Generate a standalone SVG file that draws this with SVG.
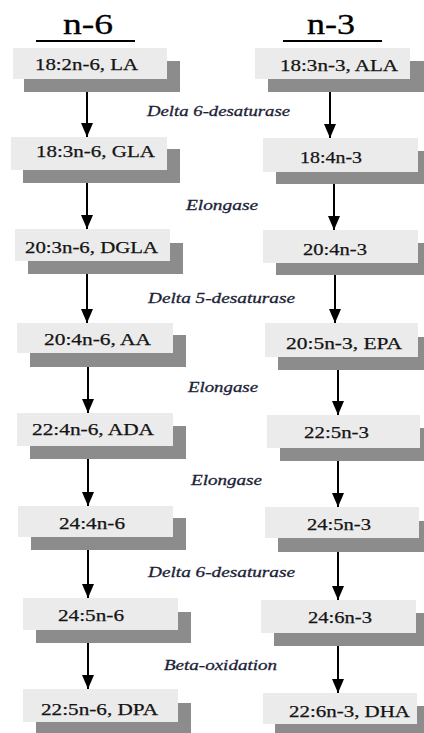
<svg xmlns="http://www.w3.org/2000/svg" width="424" height="733" viewBox="0 0 424 733">
<style>
.bg{fill:#ffffff}
.sh{fill:#8c8c8c}
.bx{fill:#ebebeb}
.t{font-family:"Liberation Serif","Times New Roman",serif;font-size:16.5px;fill:#141414;stroke:#141414;stroke-width:0.25}
.lbl{font-family:"Liberation Serif","Times New Roman",serif;font-size:14.5px;font-style:italic;fill:#1c1f38;stroke:#1c1f38;stroke-width:0.3}
.title{font-family:"Liberation Serif","Times New Roman",serif;font-size:29px;fill:#000;stroke:#000;stroke-width:0.3}
.ul{stroke:#000;stroke-width:2}
.arr{stroke:#000;stroke-width:2;fill:none;marker-end:url(#ah)}
</style>
<defs>
<marker id="ah" markerUnits="userSpaceOnUse" viewBox="0 0 14 12" markerWidth="14" markerHeight="12" refX="14" refY="6" orient="auto">
<path d="M0,0 L14,6 L0,12 z" fill="#000"/>
</marker>
</defs>
<rect class="bg" x="0" y="0" width="424" height="733"/>

<g id="title-n6">
<text class="title" x="63" y="34" textLength="50" lengthAdjust="spacingAndGlyphs">n-6</text>
<line class="ul" x1="36" y1="41" x2="135" y2="41"/>
</g>
<g id="title-n3">
<text class="title" x="307" y="34" textLength="48" lengthAdjust="spacingAndGlyphs">n-3</text>
<line class="ul" x1="283" y1="41" x2="382" y2="41"/>
</g>

<g id="connectors">
<line class="arr" x1="87" y1="92" x2="87" y2="137"/>
<line class="arr" x1="87" y1="183" x2="87" y2="229"/>
<line class="arr" x1="87" y1="274" x2="87" y2="323"/>
<line class="arr" x1="88" y1="367" x2="88" y2="413"/>
<line class="arr" x1="88" y1="459" x2="88" y2="506"/>
<line class="arr" x1="88" y1="550" x2="88" y2="598"/>
<line class="arr" x1="88" y1="643" x2="88" y2="689"/>
<line class="arr" x1="330" y1="92" x2="330" y2="138"/>
<line class="arr" x1="334" y1="184" x2="334" y2="230"/>
<line class="arr" x1="335" y1="275" x2="335" y2="323"/>
<line class="arr" x1="338" y1="370" x2="338" y2="415"/>
<line class="arr" x1="338" y1="461" x2="338" y2="507"/>
<line class="arr" x1="338" y1="552" x2="338" y2="600"/>
<line class="arr" x1="338" y1="646" x2="338" y2="693"/>
</g>

<g id="labels">
<text class="lbl" x="147" y="116" textLength="143" lengthAdjust="spacingAndGlyphs">Delta 6-desaturase</text>
<text class="lbl" x="186" y="210" textLength="72" lengthAdjust="spacingAndGlyphs">Elongase</text>
<text class="lbl" x="148" y="303" textLength="147" lengthAdjust="spacingAndGlyphs">Delta 5-desaturase</text>
<text class="lbl" x="188" y="392" textLength="70" lengthAdjust="spacingAndGlyphs">Elongase</text>
<text class="lbl" x="191" y="485" textLength="71" lengthAdjust="spacingAndGlyphs">Elongase</text>
<text class="lbl" x="148" y="577" textLength="147" lengthAdjust="spacingAndGlyphs">Delta 6-desaturase</text>
<text class="lbl" x="164" y="670" textLength="113" lengthAdjust="spacingAndGlyphs">Beta-oxidation</text>
</g>

<g id="L1"><rect class="sh" x="24" y="61" width="156" height="31"/><rect class="bx" x="13" y="48" width="154" height="31"/><text class="t" x="35" y="70" textLength="103" lengthAdjust="spacingAndGlyphs">18:2n-6, LA</text></g>
<g id="L2"><rect class="sh" x="23" y="149" width="157" height="34"/><rect class="bx" x="11" y="137" width="156" height="33"/><text class="t" x="36" y="157" textLength="119" lengthAdjust="spacingAndGlyphs">18:3n-6, GLA</text></g>
<g id="L3"><rect class="sh" x="28" y="243" width="155" height="31"/><rect class="bx" x="15" y="229" width="155" height="32"/><text class="t" x="25" y="253" textLength="133" lengthAdjust="spacingAndGlyphs">20:3n-6, DGLA</text></g>
<g id="L4"><rect class="sh" x="30" y="335" width="156" height="32"/><rect class="bx" x="17" y="323" width="156" height="30"/><text class="t" x="44" y="345" textLength="107" lengthAdjust="spacingAndGlyphs">20:4n-6, AA</text></g>
<g id="L5"><rect class="sh" x="30" y="426" width="156" height="33"/><rect class="bx" x="17" y="413" width="156" height="33"/><text class="t" x="32" y="435" textLength="122" lengthAdjust="spacingAndGlyphs">22:4n-6, ADA</text></g>
<g id="L6"><rect class="sh" x="31" y="518" width="155" height="32"/><rect class="bx" x="18" y="506" width="155" height="31"/><text class="t" x="59" y="529" textLength="66" lengthAdjust="spacingAndGlyphs">24:4n-6</text></g>
<g id="L7"><rect class="sh" x="36" y="612" width="155" height="31"/><rect class="bx" x="23" y="598" width="155" height="32"/><text class="t" x="58" y="621" textLength="66" lengthAdjust="spacingAndGlyphs">24:5n-6</text></g>
<g id="L8"><rect class="sh" x="36" y="703" width="155" height="30"/><rect class="bx" x="23" y="689" width="155" height="33"/><text class="t" x="41" y="715" textLength="117" lengthAdjust="spacingAndGlyphs">22:5n-6, DPA</text></g>

<g id="R1"><rect class="sh" x="268" y="61" width="156" height="31"/><rect class="bx" x="255" y="48" width="155" height="31"/><text class="t" x="280" y="71" textLength="118" lengthAdjust="spacingAndGlyphs">18:3n-3, ALA</text></g>
<g id="R2"><rect class="sh" x="276" y="151" width="155" height="33"/><rect class="bx" x="263" y="138" width="155" height="34"/><text class="t" x="300" y="163" textLength="62" lengthAdjust="spacingAndGlyphs">18:4n-3</text></g>
<g id="R3"><rect class="sh" x="276" y="243" width="155" height="32"/><rect class="bx" x="263" y="230" width="155" height="33"/><text class="t" x="303" y="255" textLength="64" lengthAdjust="spacingAndGlyphs">20:4n-3</text></g>
<g id="R4"><rect class="sh" x="278" y="337" width="153" height="33"/><rect class="bx" x="265" y="323" width="153" height="34"/><text class="t" x="286" y="349" textLength="116" lengthAdjust="spacingAndGlyphs">20:5n-3, EPA</text></g>
<g id="R5"><rect class="sh" x="280" y="428" width="153" height="33"/><rect class="bx" x="267" y="415" width="153" height="33"/><text class="t" x="304" y="438" textLength="65" lengthAdjust="spacingAndGlyphs">22:5n-3</text></g>
<g id="R6"><rect class="sh" x="278" y="521" width="154" height="31"/><rect class="bx" x="265" y="507" width="154" height="31"/><text class="t" x="307" y="530" textLength="64" lengthAdjust="spacingAndGlyphs">24:5n-3</text></g>
<g id="R7"><rect class="sh" x="274" y="613" width="155" height="33"/><rect class="bx" x="261" y="600" width="155" height="33"/><text class="t" x="308" y="623" textLength="64" lengthAdjust="spacingAndGlyphs">24:6n-3</text></g>
<g id="R8"><rect class="sh" x="275" y="706" width="155" height="30"/><rect class="bx" x="263" y="693" width="154" height="31"/><text class="t" x="289" y="717" textLength="121" lengthAdjust="spacingAndGlyphs">22:6n-3, DHA</text></g>
</svg>
